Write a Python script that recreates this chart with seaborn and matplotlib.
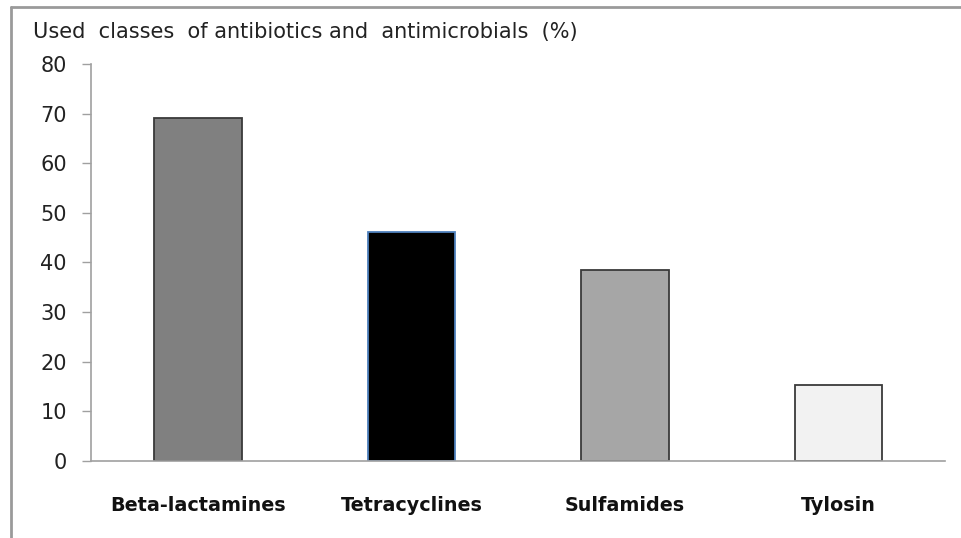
import matplotlib
matplotlib.use("Agg")
import matplotlib.pyplot as plt
import seaborn as sns
import pandas as pd
from matplotlib.lines import Line2D

# Data (share of farms using each class, %)
classes = ['Beta-lactamines', 'Tetracyclines', 'Sulfamides', 'Tylosin']
usage_pct = [69.2, 46.2, 38.5, 15.4]
fill_colors = ['#808080', '#000000', '#a6a6a6', '#f2f2f2']
edge_colors = ['#3a3a3a', '#4f81bd', '#3a3a3a', '#3a3a3a']
y_ticks = [0, 10, 20, 30, 40, 50, 60, 70, 80]

df = pd.DataFrame({'class': classes, 'pct': usage_pct})

sns.set_style('white')
plt.rcParams['font.family'] = ['DejaVu Sans']

fig = plt.figure(figsize=(9.62, 5.38), dpi=100)
ax = fig.add_axes([0.0946, 0.1431, 0.888, 0.738])

sns.barplot(data=df, x='class', y='pct', hue='class', palette=fill_colors,
            width=0.41, legend=False, ax=ax, saturation=1)

for bar, ec in zip(ax.patches, edge_colors):
    bar.set_edgecolor(ec)
    bar.set_linewidth(1.3)

ax.set_xlim(-0.5, 3.5)
ax.set_ylim(0, 80)
ax.set_yticks(y_ticks)
ax.set_yticklabels([str(t) for t in y_ticks], fontsize=15, color='#222222')
ax.set_xticks([-0.5, 0.5, 1.5, 2.5, 3.5], minor=False)
ax.set_xticklabels([])
ax.set_xticks([0, 1, 2, 3], minor=True)
ax.set_xticklabels(classes, minor=True, fontsize=13.8, fontweight='bold', color='#111111')
ax.tick_params(axis='x', which='minor', length=0, pad=25)
ax.tick_params(axis='x', which='major', length=6.5, width=1, color='#a0a0a0', direction='out')
ax.tick_params(axis='y', length=6.5, width=1, color='#a0a0a0', direction='out', pad=11, left=True)
ax.set_xlabel('')
ax.set_ylabel('')

for side in ['top', 'right']:
    ax.spines[side].set_visible(False)
for side in ['left', 'bottom']:
    ax.spines[side].set_color('#a0a0a0')
    ax.spines[side].set_linewidth(1.2)

fig.text(0.034, 0.94, 'Used  classes  of antibiotics and  antimicrobials  (%)',
         fontsize=15, color='#222222', va='center', ha='left')

# outer chart frame (left and top edges)
fig.add_artist(Line2D([0.0115, 0.0115], [0.0, 0.987], transform=fig.transFigure,
                      color='#9a9a9a', linewidth=2))
fig.add_artist(Line2D([0.0115, 1.0], [0.987, 0.987], transform=fig.transFigure,
                      color='#9a9a9a', linewidth=2))

fig.savefig('out.png', dpi=100)
